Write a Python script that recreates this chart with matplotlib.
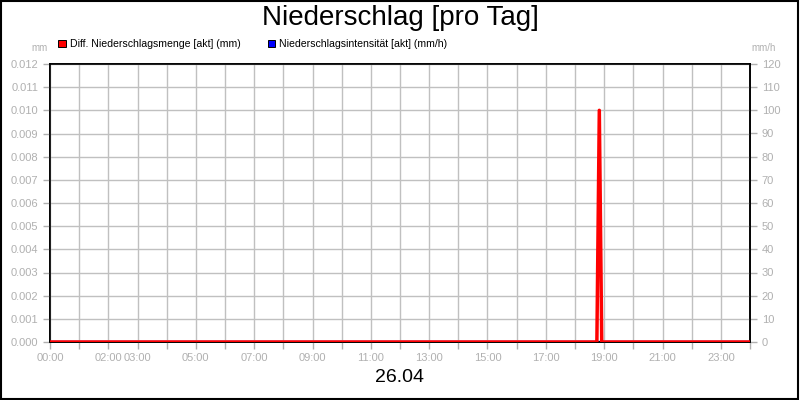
import matplotlib.pyplot as plt
from matplotlib.patches import Rectangle

plt.rcParams['font.family'] = ['Liberation Sans', 'DejaVu Sans']

# --- Daten ---
zeit_h = [0.0, 18.75, 18 + 50 / 60, 18 + 55 / 60, 24.0]   # Stunden des Tages
menge_mm = [0.0, 0.0, 0.010, 0.0, 0.0]                    # Diff. Niederschlagsmenge
intens_mmh = [0.0, 0.0, 0.0, 0.0, 0.0]                    # Niederschlagsintensität
x_labels_pos = [0, 2, 3, 5, 7, 9, 11, 13, 15, 17, 19, 21, 23]
x_labels = ['00:00', '02:00', '03:00', '05:00', '07:00', '09:00', '11:00',
            '13:00', '15:00', '17:00', '19:00', '21:00', '23:00']
datum = '26.04'

grau = '#b0b0b0'
gitter = '#c0c0c0'

fig = plt.figure(figsize=(8, 4), dpi=100)
fig.patches.append(Rectangle((0.001, 0.002), 0.997, 0.996, transform=fig.transFigure,
                             fill=False, edgecolor='black', linewidth=1.5))

ax = fig.add_axes([0.0625, 0.145, 0.875, 0.695])
ax2 = ax.twinx()

ax2.plot(zeit_h, intens_mmh, color='#0000ff', linewidth=2.5, zorder=2)
ax2.set_ylim(0, 120)
ax2.set_yticks(range(0, 121, 10))

ax.set_zorder(ax2.get_zorder() + 1)
ax.patch.set_visible(False)
ax.plot(zeit_h, menge_mm, color='#ff0000', linewidth=2.5, zorder=3)

ax.set_xlim(0, 24)
ax.set_ylim(0, 0.012)
ax.set_yticks([i * 0.001 for i in range(13)])
ax.set_yticklabels([f'{i * 0.001:.3f}' for i in range(13)])
stunden = list(range(25))
beschriftung = dict(zip(x_labels_pos, x_labels))
ax.set_xticks(stunden)
ax.set_xticklabels([beschriftung.get(h, '') for h in stunden])
ax.grid(True, color=gitter, linewidth=1)

for a in (ax, ax2):
    for s in a.spines.values():
        s.set_color('black')
        s.set_linewidth(1.2)
ax.tick_params(axis='both', colors=grau, labelsize=8, length=5, width=1)
ax.tick_params(axis='x', pad=3)
ax2.tick_params(axis='y', colors=grau, labelsize=8, length=5, width=1)

fig.text(0.5, 0.955, 'Niederschlag [pro Tag]', ha='center', va='center', fontsize=20)
fig.text(0.5, 0.055, datum, ha='center', va='center', fontsize=14)
fig.text(0.05, 0.88, 'mm', ha='center', va='center', fontsize=7, color=grau)
fig.text(0.955, 0.88, 'mm/h', ha='center', va='center', fontsize=7, color=grau)

# Legende
for xpos, farbe, text in [(0.073, '#ff0000', 'Diff. Niederschlagsmenge [akt] (mm)'),
                          (0.335, '#0000ff', 'Niederschlagsintensität [akt] (mm/h)')]:
    fig.patches.append(Rectangle((xpos, 0.882), 0.009, 0.018, transform=fig.transFigure,
                                 facecolor=farbe, edgecolor='black', linewidth=0.7))
    fig.text(xpos + 0.014, 0.891, text, ha='left', va='center', fontsize=7.6)

fig.savefig('out.png', dpi=100)
